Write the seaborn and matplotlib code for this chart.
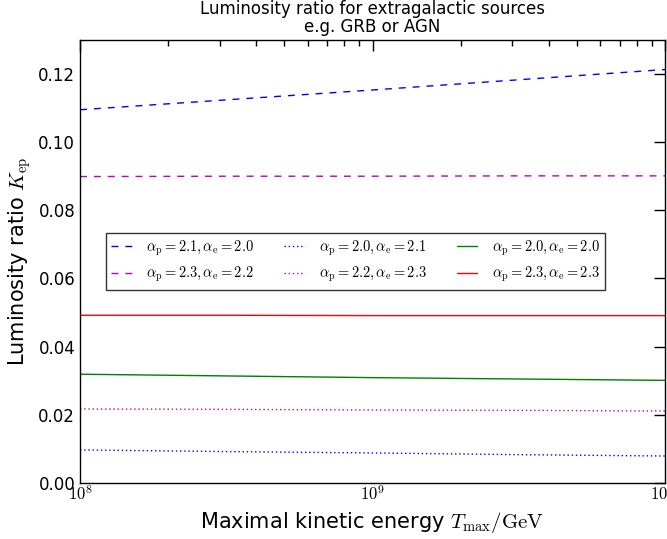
import numpy as np
import pandas as pd
import seaborn as sns
import matplotlib.pyplot as plt

# maximal kinetic energy in GeV
t_max = [1e8, 10**8.5, 1e9, 10**9.5, 1e10]

# luminosity ratio K_ep for each spectral index pair
k_p21_e20 = [0.1095, 0.1124, 0.1153, 0.1183, 0.1213]
k_p23_e22 = [0.0899, 0.0900, 0.0900, 0.0901, 0.0901]
k_p20_e21 = [0.0097, 0.0092, 0.0088, 0.0083, 0.0079]
k_p22_e23 = [0.0217, 0.0216, 0.0214, 0.0213, 0.0211]
k_p20_e20 = [0.0319, 0.0314, 0.0309, 0.0305, 0.0301]
k_p23_e23 = [0.0492, 0.0492, 0.0491, 0.0491, 0.0491]

labels = [r"$\alpha_{\rm p}=2.1, \alpha_{\rm e}=2.0$",
          r"$\alpha_{\rm p}=2.3, \alpha_{\rm e}=2.2$",
          r"$\alpha_{\rm p}=2.0, \alpha_{\rm e}=2.1$",
          r"$\alpha_{\rm p}=2.2, \alpha_{\rm e}=2.3$",
          r"$\alpha_{\rm p}=2.0, \alpha_{\rm e}=2.0$",
          r"$\alpha_{\rm p}=2.3, \alpha_{\rm e}=2.3$"]
series = [k_p21_e20, k_p23_e22, k_p20_e21, k_p22_e23, k_p20_e20, k_p23_e23]
colors = ["b", "m", "b", "m", "g", "r"]
styles = [(0, (5, 5)), (0, (5, 5)), (0, (1, 2)), (0, (1, 2)), "-", "-"]

sns.set_style("white")
plt.rcParams["mathtext.fontset"] = "cm"
plt.rcParams["xtick.direction"] = "in"
plt.rcParams["ytick.direction"] = "in"
plt.rcParams["text.color"] = "black"
plt.rcParams["axes.labelcolor"] = "black"
plt.rcParams["xtick.color"] = "black"
plt.rcParams["ytick.color"] = "black"

fig = plt.figure(figsize=(6.67, 5.39), dpi=100)
ax = fig.add_axes([0.12, 0.104, 0.877, 0.822])

for lab, vals, c, ls in zip(labels, series, colors, styles):
    df = pd.DataFrame({"T": t_max, "K": vals})
    sns.lineplot(data=df, x="T", y="K", ax=ax, color=c, linestyle=ls,
                 linewidth=1, label=lab)

ax.set_xscale("log")
ax.set_xlim(1e8, 1e10)
ax.set_ylim(0, 0.13)
ax.set_yticks(np.arange(0, 0.121, 0.02))
ax.set_yticklabels(["%.2f" % v for v in np.arange(0, 0.121, 0.02)])
ax.set_xticks([1e8, 1e9, 1e10])
ax.set_xticklabels([r"$10^{8}$", r"$10^{9}$", r"$10^{10}$"])
ax.tick_params(axis="both", which="both", top=True, right=True, labelsize=12,
               length=4, width=1, color="black", labelcolor="black")
ax.tick_params(axis="both", which="major", length=8)
ax.tick_params(axis="x", pad=2)
for s in ax.spines.values():
    s.set_color("black")
    s.set_linewidth(1)

ax.set_xlabel(r"Maximal kinetic energy $T_{\rm max}/{\rm GeV}$", fontsize=15,
              color="black")
ax.set_ylabel(r"Luminosity ratio $K_{\rm ep}$", fontsize=15, color="black")
ax.set_title("Luminosity ratio for extragalactic sources\ne.g. GRB or AGN",
             fontsize=12, linespacing=1.0, color="black")

leg = ax.legend(loc="center", bbox_to_anchor=(0.471, 0.5), ncol=3,
                fontsize=10.4, frameon=True, fancybox=False, handlelength=1.4,
                handletextpad=1.0, columnspacing=2.1)
leg.get_frame().set_edgecolor("black")
for t in leg.get_texts():
    t.set_color("black")

fig.savefig("out.png", dpi=100)
